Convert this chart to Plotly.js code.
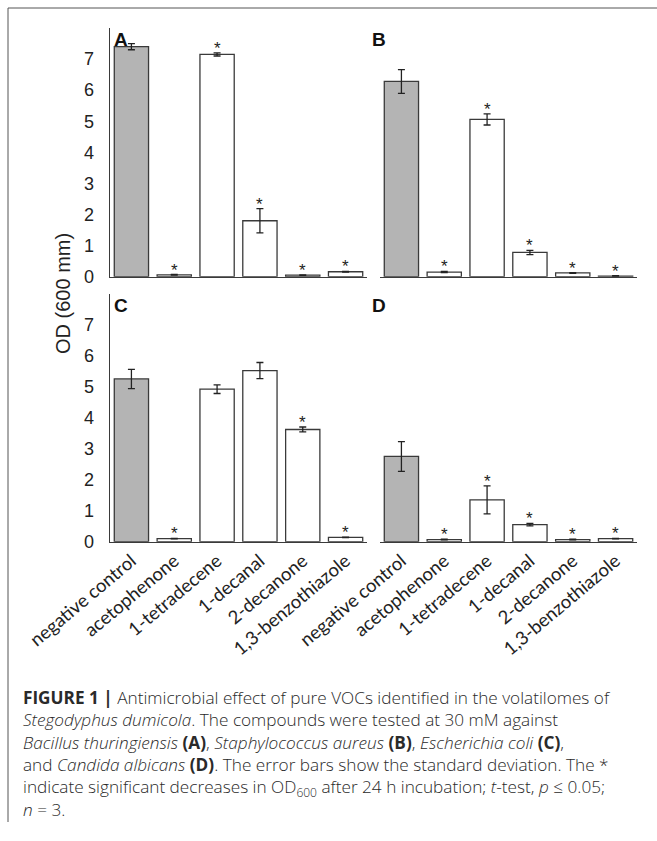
<!DOCTYPE html>
<html>
<head>
<meta charset="utf-8">
<script src="https://cdn.plot.ly/plotly-3.0.1.min.js"></script>
<style>html,body{margin:0;padding:0;background:#fff;}#chart{width:657px;height:841px;}</style>
</head>
<body>
<div id="chart"></div>
<script>
// ---- data ----
const categories = ["negative control", "acetophenone", "1-tetradecene", "1-decanal", "2-decanone", "1,3-benzothiazole"];
const valuesA = [7.40, 0.06, 7.15, 1.80, 0.05, 0.16];
const errorsA = [0.10, 0.01, 0.05, 0.39, 0.01, 0.01];
const sigA = [false, true, true, true, true, true];
const valuesB = [6.28, 0.15, 5.06, 0.78, 0.12, 0.02];
const errorsB = [0.38, 0.02, 0.18, 0.07, 0.01, 0.01];
const sigB = [false, true, true, true, true, true];
const valuesC = [5.25, 0.10, 4.92, 5.52, 3.62, 0.14];
const errorsC = [0.31, 0.01, 0.14, 0.26, 0.08, 0.01];
const sigC = [false, true, false, false, true, true];
const valuesD = [2.75, 0.07, 1.35, 0.55, 0.07, 0.10];
const errorsD = [0.48, 0.01, 0.45, 0.04, 0.01, 0.01];
const sigD = [false, true, true, true, true, true];
const panelLetters = ["A", "B", "C", "D"];
const yTickVals = [0, 1, 2, 3, 4, 5, 6, 7];
const captionLines = [
  "<b>FIGURE 1 |</b> Antimicrobial effect of pure VOCs identified in the volatilomes of",
  "<i>Stegodyphus dumicola</i>. The compounds were tested at 30 mM against",
  "<i>Bacillus thuringiensis</i> <b>(A)</b>, <i>Staphylococcus aureus</i> <b>(B)</b>, <i>Escherichia coli</i> <b>(C)</b>,",
  "and <i>Candida albicans</i> <b>(D)</b>. The error bars show the standard deviation. The *",
  "indicate significant decreases in OD<sub>600</sub> after 24 h incubation; <i>t</i>-test, <i>p</i> ≤ 0.05;",
  "<i>n</i> = 3."
];
const yTitle = "OD (600 mm)";

// ---- geometry helpers ----
const W = 657, H = 841;
const px = v => v / W;
const py = v => 1 - v / H;

const panels = [
  {vals: valuesA, errs: errorsA, sig: sigA, xd: [110, 367], yd: [28, 276.7], yline: true, xlabels: false},
  {vals: valuesB, errs: errorsB, sig: sigB, xd: [380, 637], yd: [28, 276.7], yline: false, xlabels: false},
  {vals: valuesC, errs: errorsC, sig: sigC, xd: [110, 367], yd: [293.7, 541.7], yline: true, xlabels: true},
  {vals: valuesD, errs: errorsD, sig: sigD, xd: [380, 637], yd: [293.7, 541.7], yline: false, xlabels: true}
];

const lineCol = "#3a3a3a";
const traces = [];
const layout = {
  width: W, height: H,
  margin: {l: 0, r: 0, t: 0, b: 0},
  paper_bgcolor: "#fff", plot_bgcolor: "rgba(0,0,0,0)",
  showlegend: false,
  bargap: 0.2,
  annotations: [],
  shapes: [
    {type: "line", xref: "paper", yref: "paper", x0: px(8), x1: px(657), y0: py(8), y1: py(8), line: {color: "#555", width: 1}},
    {type: "line", xref: "paper", yref: "paper", x0: px(8), x1: px(8), y0: py(8), y1: py(822), line: {color: "#555", width: 1}}
  ]
};

panels.forEach((p, i) => {
  const n = i === 0 ? "" : String(i + 1);
  const xa = "x" + n, ya = "y" + n;
  traces.push({
    type: "bar", x: categories, y: p.vals, xaxis: xa, yaxis: ya,
    marker: {color: categories.map((c, k) => k === 0 ? "#b4b4b4" : "#ffffff"), line: {color: lineCol, width: 1.3}},
    error_y: {type: "data", array: p.errs, visible: true, color: "#222", thickness: 1.3, width: 3.5},
    hoverinfo: "skip"
  });
  p.sig.forEach((s, k) => {
    if (s) {
      layout.annotations.push({
        text: "*", xref: xa, yref: ya, x: categories[k], y: p.vals[k] + p.errs[k],
        xanchor: "center", yanchor: "bottom", yshift: -7, showarrow: false,
        font: {family: "Liberation Sans, Arial, sans-serif", size: 17, color: "#222"}
      });
    }
  });
  layout["xaxis" + n] = {
    domain: [px(p.xd[0]), px(p.xd[1])], anchor: ya,
    type: "category", range: [-0.5, 5.5], fixedrange: true,
    showline: true, linecolor: lineCol, linewidth: 1.3,
    showgrid: false, zeroline: false, ticks: "",
    showticklabels: p.xlabels, tickangle: -40,
    tickfont: {family: "Lato, sans-serif", size: 18.5, color: "#222"}
  };
  layout["yaxis" + n] = {
    domain: [py(p.yd[1]), py(p.yd[0])], anchor: xa,
    range: [0, 8], fixedrange: true,
    showline: p.yline, linecolor: lineCol, linewidth: 1.3,
    showgrid: false, zeroline: false, ticks: "",
    tickvals: yTickVals, showticklabels: p.yline, ticklabelstandoff: 11,
    tickfont: {family: "Liberation Sans, Arial, sans-serif", size: 18, color: "#222"}
  };
  layout.annotations.push({
    text: "<b>" + panelLetters[i] + "</b>", xref: "paper", yref: "paper",
    x: px(p.xd[0] + (p.yline ? 2 : -10)), y: py(p.yd[0] - 1), xanchor: "left", yanchor: "top",
    showarrow: false, font: {family: "Liberation Sans, Arial, sans-serif", size: 19, color: "#111"}
  });
});

layout.annotations.push({
  text: yTitle, xref: "paper", yref: "paper", x: px(63), y: py(294),
  xanchor: "center", yanchor: "middle", textangle: -90, showarrow: false,
  font: {family: "Liberation Sans, Arial, sans-serif", size: 20, color: "#222"}
});

// caption as one multi-line text block
layout.annotations.push({
  text: captionLines.join("<br>"), xref: "paper", yref: "paper", x: px(21), y: py(753),
  xanchor: "left", yanchor: "middle", showarrow: false, align: "left",
  font: {family: "Open Sans, sans-serif", size: 17.2, weight: 300, color: "#2a2a2a"}
});

Plotly.newPlot("chart", traces, layout, {staticPlot: true, displayModeBar: false});
</script>
</body>
</html>
